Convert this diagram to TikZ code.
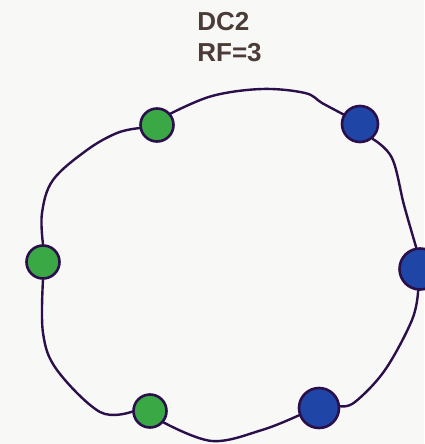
\documentclass[tikz,border=0pt]{standalone}
\usepackage{fontspec}
\setmainfont{Liberation Sans}
\usepackage{tikz}
\usetikzlibrary{shapes,calc,positioning}
\definecolor{ringc}{HTML}{2B0F4B}
\definecolor{dcgreen}{HTML}{3AA845}
\definecolor{dcblue}{HTML}{1F46A6}
\definecolor{titlec}{HTML}{4B3C37}
\definecolor{paper}{HTML}{F8F8F7}
\tikzset{gnode/.style={draw=ringc, circle, line width=2.6pt, fill=dcgreen, minimum size=33pt, inner sep=0pt}}
\tikzset{bnode/.style={draw=ringc, circle, line width=2.6pt, fill=dcblue, minimum size=36pt, inner sep=0pt}}
\tikzset{ring/.style={draw=ringc, line width=2.4pt, line cap=round}}
\begin{document}
\begin{tikzpicture}[x=1pt,y=-1pt]
        \fill [paper] (0,0) rectangle (424,444);
        \useasboundingbox (0,0) rectangle (424,444);
        \node [font=\bfseries\fontsize{26}{31}\selectfont, text=titlec, align=left, inner sep=0pt] (title) at (229.5,37.5) {DC2\\RF=3};
        %
        \node [gnode]                       (g1)    at (157,125)   {};
        \node [bnode]                       (b1)    at (360,124)   {};
        \node [bnode, minimum size=41pt]    (b2)    at (420,269)   {};
        \node [bnode, minimum size=40pt]    (b3)    at (319,408)   {};
        \node [gnode]                       (g3)    at (150,411)   {};
        \node [gnode]                       (g2)    at (43,262)    {};
        %
        \draw [ring] plot [smooth, tension=0.6] coordinates {(g1.40) (212,96) (262,89) (305,93) (322,103) (b1.150)};
        \draw [ring] plot [smooth, tension=0.6] coordinates {(b1.-50) (392,158) (404,205) (b2.100)};
        \draw [ring] plot [smooth, tension=0.6] coordinates {(b2.-95) (412,320) (385,370) (355,402) (b3.5)};
        \draw [ring] plot [smooth, tension=0.6] coordinates {(b3.200) (262,430) (212,441) (g3.-40)};
        \draw [ring] plot [smooth, tension=0.6] coordinates {(g3.182) (100,412) (57,370) (43,333) (g2.-90)};
        \draw [ring] plot [smooth, tension=0.6] coordinates {(g2.90) (42,213) (53,180) (87,150) (117,133) (g1.190)};
    \end{tikzpicture}
\end{document}
